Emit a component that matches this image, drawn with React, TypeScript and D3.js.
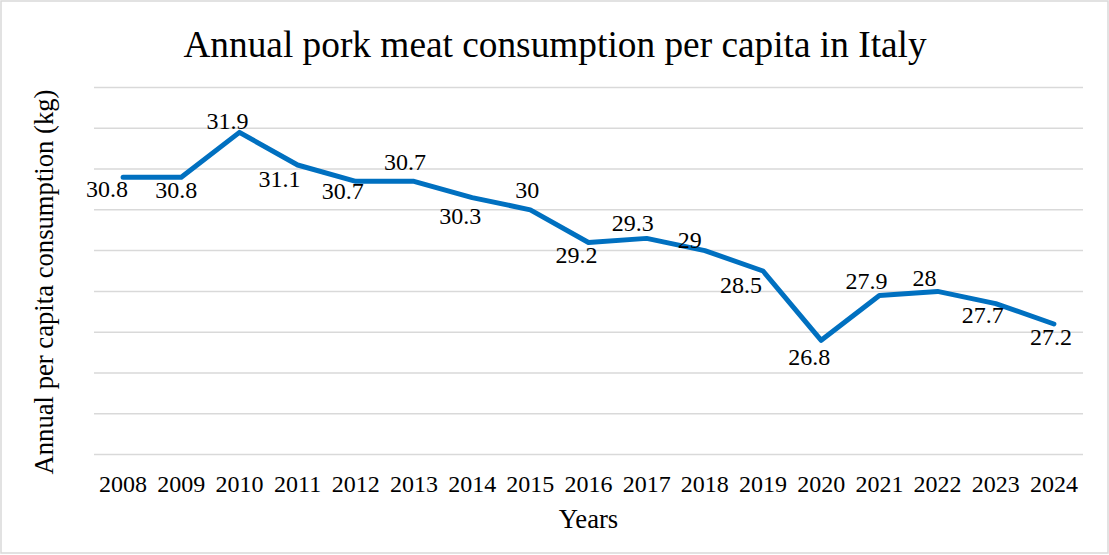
import React from "react";
import * as d3 from "d3";

const years = ["2008","2009","2010","2011","2012","2013","2014","2015","2016","2017","2018","2019","2020","2021","2022","2023","2024"];
const values = [30.8,30.8,31.9,31.1,30.7,30.7,30.3,30,29.2,29.3,29,28.5,26.8,27.9,28,27.7,27.2];
const labelDx = [-16,-5,-12,-18,-13,-9,-12,-3,-12,-14,-15,-22,-12,-13,-13,-13,-3];
const labelDy = [20,21,-3,22,18,-11,26,-12,21,-7,-3,22,25,-6,-5,19,21];
const gridValues = [24,25,26,27,28,29,30,31,32,33];

const W = 1109, H = 555;
const FONT = "'Liberation Serif', 'Times New Roman', serif";

export default function App() {
  const x = d3.scalePoint<string>().domain(years).range([94, 1083]).padding(0.5);
  const y = d3.scaleLinear().domain([24, 33]).range([454.5, 87.5]);
  const line = d3.line<number>().x((_, i) => x(years[i])!).y(d => y(d));
  return (
    <svg width={W} height={H} style={{ position: "absolute", left: 0, top: 0, background: "#fff" }} fontFamily={FONT}>
      <rect x={1} y={1} width={1107} height={552} fill="#fff" stroke="#d9d9d9" strokeWidth={1.5} />
      <text x={555} y={57} textAnchor="middle" fontSize={37.33} fill="#000">Annual pork meat consumption per capita in Italy</text>
      {gridValues.map(v => (
        <line key={v} x1={94} x2={1083} y1={y(v)} y2={y(v)} stroke="#d9d9d9" strokeWidth={1.5} />
      ))}
      {years.map(yr => (
        <text key={yr} x={x(yr)} y={492} textAnchor="middle" fontSize={24} fill="#000">{yr}</text>
      ))}
      <path d={line(values)!} fill="none" stroke="#0070C0" strokeWidth={5} strokeLinejoin="round" strokeLinecap="round" />
      {values.map((v, i) => (
        <text key={i} x={x(years[i])! + labelDx[i]} y={y(v) + labelDy[i]} textAnchor="middle" fontSize={24} fill="#000">{String(v)}</text>
      ))}
      <text x={588.5} y={528} textAnchor="middle" fontSize={26.67} fill="#000">Years</text>
      <text transform={`translate(53,282) rotate(-90)`} textAnchor="middle" fontSize={26.67} fill="#000">Annual per capita consumption (kg)</text>
    </svg>
  );
}
